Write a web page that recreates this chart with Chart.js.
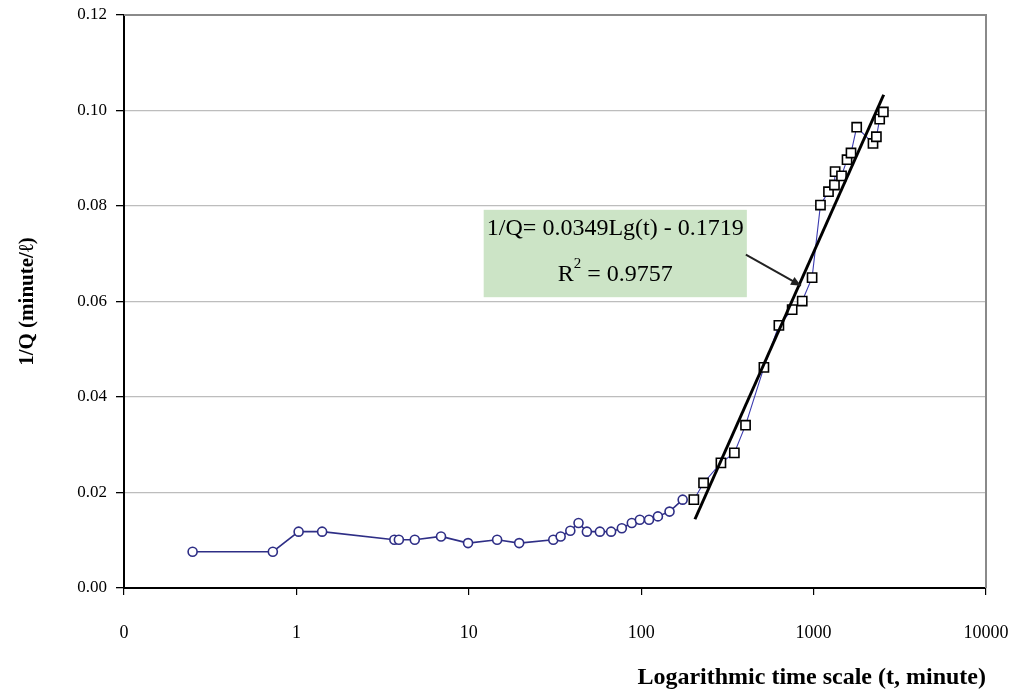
<!DOCTYPE html>
<html>
<head>
<meta charset="utf-8">
<script src="https://cdn.jsdelivr.net/npm/chart.js@4/dist/chart.umd.min.js"></script>
<style>
  html, body { margin: 0; padding: 0; background: #fff; }
  #wrap { width: 1019px; height: 695px; position: relative; }
</style>
</head>
<body>
<div id="wrap"><canvas id="c" width="1019" height="695"></canvas></div>
<script>
// ---- data ----
const earlyT = [0.25, 0.73, 1.03, 1.41, 3.7, 3.93, 4.86, 6.9, 9.9, 14.6, 19.6, 30.9, 34.1, 38.8, 43.3, 48.4, 57.6, 66.9, 77.2, 88.2, 98.2, 111, 125, 146, 174];
const earlyQ = [0.0076, 0.0076, 0.0118, 0.0118, 0.0101, 0.0101, 0.0101, 0.0108, 0.0094, 0.0101, 0.0094, 0.0101, 0.0108, 0.0120, 0.0136, 0.0118, 0.0118, 0.0118, 0.0125, 0.0136, 0.0143, 0.0143, 0.0150, 0.0160, 0.0185];
const lateT = [202, 230, 290, 347, 403, 515, 629, 751, 859, 980, 1096, 1220, 1321, 1333, 1452, 1563, 1648, 1778, 2211, 2313, 2417, 2539];
const lateQ = [0.0185, 0.0220, 0.0262, 0.0283, 0.0341, 0.0462, 0.0550, 0.0583, 0.0601, 0.0650, 0.0802, 0.0830, 0.0844, 0.0872, 0.0863, 0.0897, 0.0911, 0.0965, 0.0931, 0.0945, 0.0982, 0.0997];
const trendT = [205, 2550];
const trendQ = [0.0144, 0.1033];
const xTicks = [0.1, 1, 10, 100, 1000, 10000];
const xTickLabels = ['0', '1', '10', '100', '1000', '10000'];
const yTicks = [0, 0.02, 0.04, 0.06, 0.08, 0.10, 0.12];
const eqLine1 = '1/Q= 0.0349Lg(t) - 0.1719';
const eqLine2R = 'R';
const eqLine2Rest = ' = 0.9757';

const toPts = (xs, ys) => xs.map((x, i) => ({ x: x, y: ys[i] }));
const SERIF = "'Liberation Serif', 'Times New Roman', serif";

// plot border on top and right (grey), annotation box with arrow
const decor = {
  id: 'decor',
  beforeDatasetsDraw(chart) {
    const { ctx, chartArea: a } = chart;
    ctx.save();
    ctx.strokeStyle = '#8a8a8a';
    ctx.lineWidth = 2;
    ctx.beginPath();
    ctx.moveTo(a.left, a.top);
    ctx.lineTo(a.right, a.top);
    ctx.lineTo(a.right, a.bottom);
    ctx.stroke();
    ctx.restore();
  },
  afterDatasetsDraw(chart) {
    const { ctx, scales: { x, y } } = chart;
    const bx0 = x.getPixelForValue(12.2), bx1 = x.getPixelForValue(410);
    const by0 = y.getPixelForValue(0.0792), by1 = y.getPixelForValue(0.0609);
    ctx.save();
    ctx.fillStyle = '#cce4c6';
    ctx.fillRect(bx0, by0, bx1 - bx0, by1 - by0);
    // arrow
    const ax0 = bx1 - 1, ay0 = y.getPixelForValue(0.0698);
    const ax1 = x.getPixelForValue(845), ay1 = y.getPixelForValue(0.0633);
    ctx.strokeStyle = '#222';
    ctx.fillStyle = '#222';
    ctx.lineWidth = 2;
    ctx.beginPath();
    ctx.moveTo(ax0, ay0);
    ctx.lineTo(ax1, ay1);
    ctx.stroke();
    const ang = Math.atan2(ay1 - ay0, ax1 - ax0);
    const L = 10, W = 4.5;
    ctx.beginPath();
    ctx.moveTo(ax1, ay1);
    ctx.lineTo(ax1 - L * Math.cos(ang) + W * Math.sin(ang), ay1 - L * Math.sin(ang) - W * Math.cos(ang));
    ctx.lineTo(ax1 - L * Math.cos(ang) - W * Math.sin(ang), ay1 - L * Math.sin(ang) + W * Math.cos(ang));
    ctx.closePath();
    ctx.fill();
    // text
    const cx = (bx0 + bx1) / 2;
    const big = '24px ' + SERIF, small = '15px ' + SERIF;
    ctx.fillStyle = '#000';
    ctx.font = big;
    ctx.textAlign = 'center';
    ctx.textBaseline = 'middle';
    ctx.fillText(eqLine1, cx, by0 + 19);
    // second line with superscript
    const wR = ctx.measureText(eqLine2R).width;
    const wRest = ctx.measureText(eqLine2Rest).width;
    ctx.font = small;
    const wS = ctx.measureText('2').width;
    const total = wR + wS + wRest;
    let sx = cx - total / 2;
    const ly = by0 + 65;
    ctx.textAlign = 'left';
    ctx.font = big;
    ctx.fillText(eqLine2R, sx, ly);
    sx += wR;
    ctx.font = small;
    ctx.fillText('2', sx, ly - 11);
    sx += wS;
    ctx.font = big;
    ctx.fillText(eqLine2Rest, sx, ly);
    ctx.restore();
  }
};

new Chart(document.getElementById('c'), {
  type: 'scatter',
  data: {
    datasets: [
      {
        data: toPts(earlyT, earlyQ),
        showLine: true,
        borderColor: '#2e2e86',
        borderWidth: 1.6,
        pointStyle: 'circle',
        pointRadius: 4.5,
        pointBorderWidth: 1.6,
        pointBorderColor: '#2e2e86',
        pointBackgroundColor: '#ffffff',
        order: 2
      },
      {
        data: toPts(lateT, lateQ),
        showLine: true,
        borderColor: '#3a3ab0',
        borderWidth: 1.1,
        pointStyle: 'rect',
        pointRadius: 6.5,
        pointBorderWidth: 1.6,
        pointBorderColor: '#000000',
        pointBackgroundColor: '#ffffff',
        order: 2
      },
      {
        data: toPts(trendT, trendQ),
        showLine: true,
        borderColor: '#000000',
        borderWidth: 3,
        pointRadius: 0,
        order: 1
      }
    ]
  },
  options: {
    responsive: false,
    animation: false,
    layout: { padding: { top: 15, right: 33, left: 0, bottom: 0 } },
    plugins: { legend: { display: false }, tooltip: { enabled: false } },
    scales: {
      x: {
        type: 'logarithmic',
        min: 0.1,
        max: 10000,
        afterBuildTicks(scale) { scale.ticks = xTicks.map(v => ({ value: v })); },
        afterFit(scale) { scale.height = 107; scale.paddingLeft = 0; scale.paddingRight = 0; },
        ticks: {
          autoSkip: false,
          maxRotation: 0,
          padding: 27,
          color: '#000',
          font: { family: SERIF, size: 18 },
          callback(value) {
            const i = xTicks.findIndex(t => Math.abs(t - value) / t < 1e-6);
            return i >= 0 ? xTickLabels[i] : '';
          }
        },
        grid: { drawOnChartArea: false, drawTicks: true, tickLength: 7, tickColor: '#000', color: '#000', lineWidth: 1.2 },
        border: { color: '#000', width: 2 },
        title: {
          display: true,
          text: 'Logarithmic time scale (t, minute)',
          align: 'end',
          color: '#000',
          font: { family: SERIF, size: 24, weight: 'bold' },
          padding: { top: 0, bottom: 3 }
        }
      },
      y: {
        type: 'linear',
        min: 0,
        max: 0.12,
        afterBuildTicks(scale) { scale.ticks = yTicks.map(v => ({ value: v })); },
        afterFit(scale) { scale.width = 124; scale.paddingTop = 0; scale.paddingBottom = 0; },
        ticks: {
          padding: 9,
          color: '#000',
          font: { family: SERIF, size: 17 },
          callback(value) { return Number(value).toFixed(2); }
        },
        grid: {
          drawTicks: true,
          tickLength: 8,
          tickColor: '#000',
          lineWidth: 1.3,
          color(ctx) { return (ctx.tick && ctx.tick.value === 0) ? 'rgba(0,0,0,0)' : '#bdbdbd'; }
        },
        border: { color: '#000', width: 2 },
        title: {
          display: true,
          text: '1/Q (minute/ℓ)',
          color: '#000',
          font: { family: SERIF, size: 21, weight: 'bold' },
          padding: { top: 15, bottom: 0 }
        }
      }
    }
  },
  plugins: [decor]
});
</script>
</body>
</html>
